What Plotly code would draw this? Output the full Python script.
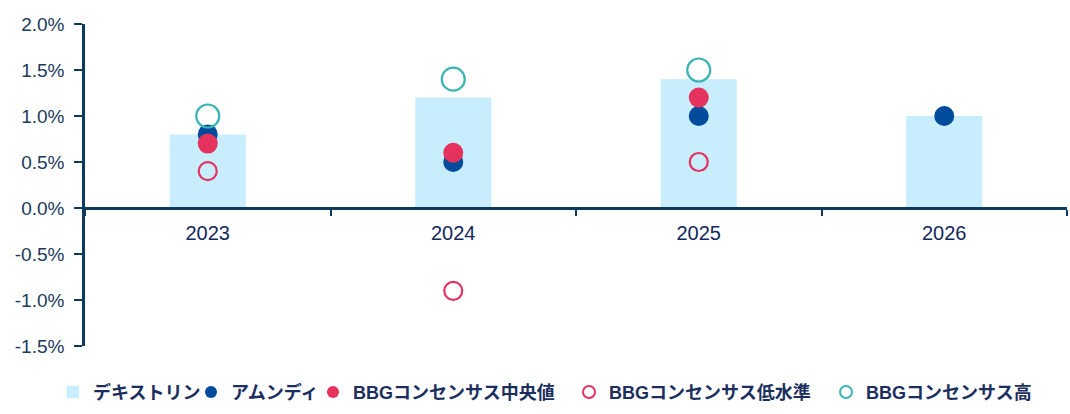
import plotly.graph_objects as go

years = ["2023", "2024", "2025", "2026"]
dextrin = [0.8, 1.2, 1.4, 1.0]
amundi = [0.8, 0.5, 1.0, 1.0]
bbg_median = [0.7, 0.6, 1.2, None]
bbg_low = [0.4, -0.9, 0.5, None]
bbg_high = [1.0, 1.4, 1.5, None]
y_ticks = [-1.5, -1.0, -0.5, 0.0, 0.5, 1.0, 1.5, 2.0]
y_tick_labels = ["-1.5%", "-1.0%", "-0.5%", "0.0%", "0.5%", "1.0%", "1.5%", "2.0%"]

navy = "#0D3B5E"
text_col = "#1B2F5E"
W, H = 1070, 414
ML, MR, MT, MB = 85, 3, 24, 66
PW, PH = W - ML - MR, H - MT - MB

fig = go.Figure()
fig.add_trace(go.Bar(x=years, y=dextrin, name="デキストリン", marker_color="#C8EDFD",
                     width=0.31, marker_line_width=0, legend="legend"))
fig.add_trace(go.Scatter(x=years, y=amundi, name="アムンディ", mode="markers",
                         marker=dict(size=20, color="#004B9B"), legend="legend2"))
fig.add_trace(go.Scatter(x=years, y=bbg_median, name="BBGコンセンサス中央値", mode="markers",
                         marker=dict(size=20, color="#E5325E"), legend="legend3"))
fig.add_trace(go.Scatter(x=years, y=bbg_low, name="BBGコンセンサス低水準", mode="markers",
                         marker=dict(size=18, color="#E5325E", symbol="circle-open",
                                     line=dict(color="#E5325E", width=2.2)), legend="legend4"))
fig.add_trace(go.Scatter(x=years, y=bbg_high, name="BBGコンセンサス高", mode="markers",
                         marker=dict(size=23, color="#3AB4B4", symbol="circle-open",
                                     line=dict(color="#3AB4B4", width=2.2)), legend="legend5"))

legend_font = dict(family="Liberation Sans, Noto Sans CJK JP", size=18, color=text_col, weight="bold")
legend_x_px = [53, 191, 313, 569, 826]
legend_top_px = 376


def legend_style(xpx):
    return dict(orientation="h", x=(xpx - ML) / PW, xanchor="left", xref="paper",
                y=-(legend_top_px - (H - MB)) / PH, yanchor="top", yref="paper",
                font=legend_font, itemwidth=30, itemsizing="constant",
                bgcolor="rgba(0,0,0,0)", borderwidth=0)


y_min, y_max = -1.5, 2.0
fig.update_layout(
    width=W, height=H,
    margin=dict(l=ML, r=MR, t=MT, b=MB),
    plot_bgcolor="white", paper_bgcolor="white",
    showlegend=True,
    font=dict(family="Liberation Sans, Arial, sans-serif", size=17, color=text_col),
    legend=legend_style(legend_x_px[0]),
    legend2=legend_style(legend_x_px[1]),
    legend3=legend_style(legend_x_px[2]),
    legend4=legend_style(legend_x_px[3]),
    legend5=legend_style(legend_x_px[4]),
    xaxis=dict(type="category", anchor="free", position=(0 - y_min) / (y_max - y_min),
               showline=True, linecolor=navy, linewidth=2.5,
               ticks="outside", tickson="boundaries", ticklen=6, tickwidth=2, tickcolor=navy,
               ticklabelstandoff=6,
               showgrid=False, zeroline=False,
               tickfont=dict(family="Liberation Sans, Arial, sans-serif", size=20, color="#13285C")),
    yaxis=dict(range=[y_min, y_max], tickvals=y_ticks, ticktext=y_tick_labels,
               showline=True, linecolor=navy, linewidth=2.5,
               ticks="outside", ticklen=8, tickwidth=2, tickcolor=navy,
               ticklabelstandoff=6,
               showgrid=False, zeroline=False,
               tickfont=dict(family="Liberation Sans, Arial, sans-serif", size=19, color="#1B3A5C")),
)

fig.write_html("out.html")
